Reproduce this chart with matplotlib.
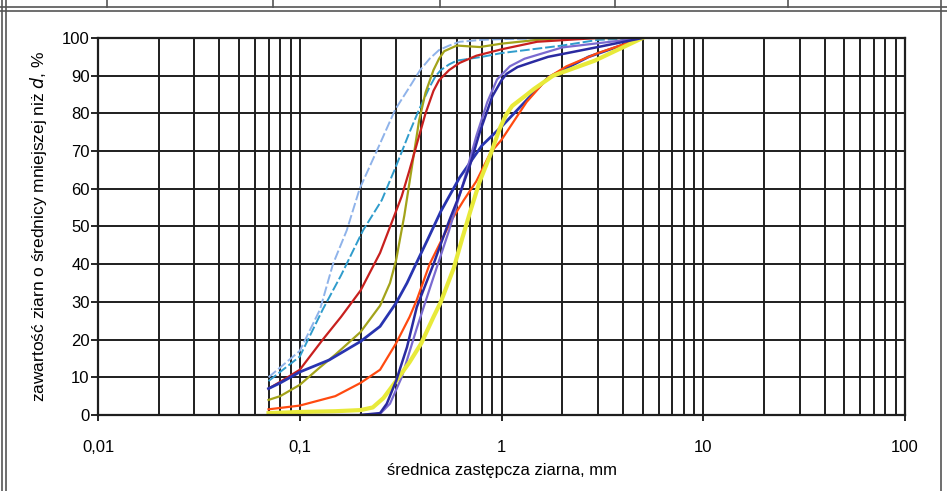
import matplotlib.pyplot as plt
from matplotlib.lines import Line2D
from matplotlib.ticker import FixedLocator, LogLocator, NullFormatter

plt.rcParams['font.family'] = ['Liberation Sans', 'DejaVu Sans']

# grain size curves: diameter [mm] and percent finer [%]
d_lightblue = [0.07, 0.1, 0.126, 0.146, 0.171, 0.198, 0.25, 0.297, 0.35, 0.395, 0.44, 0.49, 0.55, 0.62, 0.8, 1.0, 2.0, 5.0]
p_lightblue = [10, 17, 28, 40, 49, 60, 72, 81, 87, 91.5, 94.5, 96.8, 98, 99, 99.5, 99.7, 100, 100]

d_cyan = [0.07, 0.1, 0.13, 0.16, 0.206, 0.255, 0.3, 0.35, 0.39, 0.44, 0.47, 0.5, 0.55, 0.6, 0.8, 1.0, 2.0, 3.0, 5.0]
p_cyan = [9, 15.5, 28, 37, 49, 57, 66, 75, 81, 87, 89.8, 91.5, 93, 94, 95, 96, 98, 99.5, 100]

d_red = [0.07, 0.08, 0.1, 0.13, 0.16, 0.2, 0.25, 0.29, 0.32, 0.35, 0.395, 0.42, 0.46, 0.49, 0.55, 0.62, 0.75, 1.0, 1.5, 3.0, 5.0]
p_red = [7, 8.8, 12, 20, 26, 33, 43, 52, 58, 65, 75, 80, 86, 88.8, 91.5, 93.4, 95.3, 97, 99, 100, 100]

d_olive = [0.07, 0.08, 0.1, 0.125, 0.15, 0.2, 0.25, 0.28, 0.3, 0.33, 0.36, 0.39, 0.42, 0.46, 0.49, 0.52, 0.6, 0.78, 1.0, 1.5, 2.0, 5.0]
p_olive = [4, 5, 8, 12.5, 16, 22, 29, 35, 41, 53, 66, 78, 85.5, 91.5, 94.5, 96.5, 98, 97.6, 98.5, 99.5, 100, 100]

d_navy = [0.07, 0.08, 0.1, 0.14, 0.2, 0.25, 0.3, 0.34, 0.38, 0.43, 0.5, 0.62, 0.8, 1.0, 1.33, 1.7, 2.7, 5.0]
p_navy = [7, 8.5, 11.4, 14.6, 19.5, 23.5, 29.7, 35, 40.5, 46.5, 54, 63, 71.5, 76.5, 83.5, 89.5, 95, 100]

d_orange = [0.07, 0.1, 0.15, 0.2, 0.25, 0.3, 0.35, 0.38, 0.44, 0.5, 0.57, 0.65, 0.75, 0.88, 1.0, 1.33, 1.7, 2.1, 3.0, 5.0]
p_orange = [1.5, 2.5, 5, 8.5, 12, 19, 26, 30.5, 40, 46, 52, 57, 62, 69.5, 73, 83, 89.5, 92.5, 96, 100]

d_yellow = [0.07, 0.1, 0.15, 0.2, 0.23, 0.26, 0.3, 0.35, 0.4, 0.46, 0.5, 0.58, 0.64, 0.7, 0.78, 0.88, 0.98, 1.05, 1.13, 1.3, 1.45, 1.8, 2.9, 5.0]
p_yellow = [0.5, 0.8, 1.0, 1.3, 2, 4.5, 9, 14, 19, 26, 30, 39, 47, 54, 62, 69, 76, 79.5, 82, 84.5, 86.5, 90, 94, 100]

d_blue = [0.2, 0.25, 0.27, 0.3, 0.34, 0.38, 0.46, 0.55, 0.62, 0.7, 0.78, 0.9, 1.0, 1.06, 1.2, 1.38, 1.7, 3.0, 5.0]
p_blue = [0, 0.5, 3, 9, 18, 28.6, 40, 51.5, 58.5, 66.5, 75, 84.5, 88.8, 90.5, 92.3, 93.4, 95, 97.6, 100]

d_violet = [0.12, 0.2, 0.25, 0.28, 0.32, 0.38, 0.45, 0.55, 0.65, 0.75, 0.85, 0.95, 1.1, 1.3, 2.0, 5.0]
p_violet = [0, 0, 0.3, 3, 10, 23, 35, 49, 62, 74, 83, 89, 92.5, 94.5, 97.5, 100]

x_ticks = [0.01, 0.1, 1, 10, 100]
x_labels = ['0,01', '0,1', '1', '10', '100']
y_ticks = list(range(0, 101, 10))

fig = plt.figure(figsize=(9.47, 4.91), dpi=100)
ax = fig.add_axes([0.1035, 0.1548, 0.8522, 0.7678])

ax.plot(d_lightblue, p_lightblue, color='#8fb3ea', lw=1.4, ls=(0, (5, 1.5)))
ax.plot(d_cyan, p_cyan, color='#2f9ccc', lw=1.4, ls=(0, (5, 1.5)))
ax.plot(d_olive, p_olive, color='#a3a31a', lw=1.6)
ax.plot(d_red, p_red, color='#c8201e', lw=1.6)
ax.plot(d_navy, p_navy, color='#2834b0', lw=2.0)
ax.plot(d_orange, p_orange, color='#ff4a10', lw=1.6)
ax.plot(d_violet, p_violet, color='#7a6ad0', lw=1.6)
ax.plot(d_yellow, p_yellow, color='#e8ea3a', lw=3.0)
ax.plot(d_blue, p_blue, color='#2a2aa0', lw=1.8)

ax.set_xscale('log')
ax.set_xlim(0.01, 100)
ax.set_ylim(0, 100)
ax.xaxis.set_major_locator(FixedLocator(x_ticks))
ax.set_xticklabels(x_labels)
ax.xaxis.set_minor_locator(LogLocator(base=10, subs=range(2, 10)))
ax.xaxis.set_minor_formatter(NullFormatter())
ax.set_yticks(y_ticks)

ax.grid(True, which='both', axis='x', color='#1e1e1e', lw=1.4)
ax.grid(True, which='major', axis='y', color='#1e1e1e', lw=1.4)
ax.tick_params(axis='y', direction='out', length=5, width=1.2, labelsize=12, pad=1)
ax.tick_params(axis='x', which='major', direction='out', length=4, width=1.2, labelsize=12, pad=14)
ax.tick_params(axis='x', which='minor', length=0)
for s in ax.spines.values():
    s.set_linewidth(1.6)
    s.set_color('#1e1e1e')

ax.set_xlabel('średnica zastępcza ziarna, mm', fontsize=12, labelpad=6)
ax.set_ylabel('zawartość ziarn o średnicy mniejszej niż $\\it{d}$, %', fontsize=12.5, labelpad=9)

# scanned page frame
frame = dict(transform=fig.transFigure, color='#555555', lw=1.2)
W, H = 947.0, 491.0
fig.add_artist(Line2D([2 / W, 2 / W], [0, 1], **frame))
fig.add_artist(Line2D([6 / W, 6 / W], [0, 1], **frame))
fig.add_artist(Line2D([941 / W, 941 / W], [0, 1], **frame))
fig.add_artist(Line2D([0, 1], [1 - 7 / H, 1 - 7 / H], **frame))
fig.add_artist(Line2D([0, 1], [1 - 11 / H, 1 - 11 / H], **frame))
for xv in [107, 273, 440, 615, 788]:
    fig.add_artist(Line2D([xv / W, xv / W], [1 - 7 / H, 1], **frame))

fig.savefig('out.png', dpi=100)
